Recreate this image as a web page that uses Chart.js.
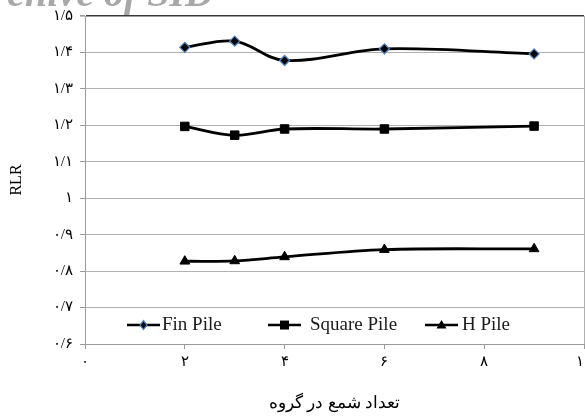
<!DOCTYPE html>
<html>
<head>
<meta charset="utf-8">
<script src="https://cdn.jsdelivr.net/npm/chart.js@4/dist/chart.umd.min.js"></script>
<style>
  html, body { margin: 0; padding: 0; background: #fff; }
  #wrap { width: 585px; height: 418px; }
</style>
</head>
<body>
<div id="wrap"><canvas id="chart" width="585" height="418"></canvas></div>
<script>
// values
const xValues = [2, 3, 4, 6, 9];
const finPile = [1.414, 1.431, 1.378, 1.41, 1.396];
const squarePile = [1.197, 1.173, 1.19, 1.19, 1.198];
const hPile = [0.827, 0.828, 0.839, 0.859, 0.861];
const seriesNames = ['Fin Pile', 'Square Pile', 'H Pile'];
const xTickLabels = ['۰', '۲', '۴', '۶', '۸', '۱۰'];
const yTickLabels = ['۰/۶', '۰/۷', '۰/۸', '۰/۹', '۱', '۱/۱', '۱/۲', '۱/۳', '۱/۴', '۱/۵'];
const xTitle = 'تعداد شمع در گروه';
const yTitle = 'RLR';
const watermark = 'Archive of SID';

const GRID = '#b0b0b0';
const AXIS = '#9a9a9a';
const SERIF = '"Liberation Serif", "DejaVu Serif", serif';

const toPoints = (ys) => ys.map((y, i) => ({ x: xValues[i], y }));

// draws the small marker shapes in the legend
const drawMarker = (ctx, style, x, y) => {
  ctx.save();
  ctx.fillStyle = '#000';
  ctx.beginPath();
  if (style === 'rectRot') {
    ctx.moveTo(x, y - 4.5);
    ctx.lineTo(x + 3.5, y);
    ctx.lineTo(x, y + 4.5);
    ctx.lineTo(x - 3.5, y);
    ctx.closePath();
    ctx.fill();
    ctx.strokeStyle = '#4f81bd';
    ctx.lineWidth = 1.2;
    ctx.stroke();
  } else if (style === 'rect') {
    ctx.rect(x - 4.5, y - 4.5, 9, 9);
    ctx.fill();
  } else {
    ctx.moveTo(x, y - 5);
    ctx.lineTo(x + 5, y + 3.5);
    ctx.lineTo(x - 5, y + 3.5);
    ctx.closePath();
    ctx.fill();
  }
  ctx.restore();
};

const insideLegend = {
  id: 'insideLegend',
  afterDatasetsDraw(chart) {
    const { ctx } = chart;
    const starts = [127, 268, 425];
    const gaps = [2, 9, 4];
    const y = chart.scales.y.getPixelForValue(0.652);
    ctx.save();
    chart.data.datasets.forEach((ds, i) => {
      const x0 = starts[i];
      ctx.strokeStyle = '#000';
      ctx.lineWidth = 2.6;
      ctx.beginPath();
      ctx.moveTo(x0, y);
      ctx.lineTo(x0 + 33, y);
      ctx.stroke();
      drawMarker(ctx, ds.pointStyle, x0 + 16.5, y);
      ctx.fillStyle = '#1a1a1a';
      ctx.font = '19px ' + SERIF;
      ctx.textAlign = 'left';
      ctx.textBaseline = 'middle';
      ctx.fillText(ds.label, x0 + 33 + gaps[i], y);
    });
    ctx.restore();
  }
};

const watermarkText = {
  id: 'watermarkText',
  afterDraw(chart) {
    const { ctx } = chart;
    ctx.save();
    ctx.font = 'italic bold 40px ' + SERIF;
    ctx.fillStyle = '#a8a8a8';
    ctx.textAlign = 'right';
    ctx.textBaseline = 'alphabetic';
    ctx.fillText(watermark, 214, 6);
    ctx.restore();
  }
};

const lineDataset = (label, values, style, radius, extra) => ({
  label,
  data: toPoints(values),
  borderColor: '#000',
  borderWidth: 2.8,
  tension: 0.35,
  pointStyle: style,
  pointRadius: radius,
  pointHoverRadius: radius,
  pointBackgroundColor: '#000',
  pointBorderColor: '#000',
  pointBorderWidth: 1,
  ...extra
});

new Chart(document.getElementById('chart'), {
  type: 'line',
  data: {
    datasets: [
      lineDataset(seriesNames[0], finPile, 'rectRot', 5, { pointBorderColor: '#4f81bd', pointBorderWidth: 1.3 }),
      lineDataset(seriesNames[1], squarePile, 'rect', 6),
      lineDataset(seriesNames[2], hPile, 'triangle', 5.6)
    ]
  },
  options: {
    responsive: false,
    animation: false,
    layout: { autoPadding: false, padding: { top: 16, right: 1, left: 0, bottom: 0 } },
    plugins: {
      legend: { display: false },
      tooltip: { enabled: false }
    },
    scales: {
      x: {
        type: 'linear',
        min: 0,
        max: 10,
        ticks: {
          stepSize: 2,
          padding: 4,
          color: '#000',
          font: { size: 15, family: SERIF },
          callback: (v, i) => xTickLabels[i]
        },
        grid: {
          color: (c) => (c.index === xTickLabels.length - 1 ? GRID : 'transparent'),
          tickColor: AXIS,
          tickLength: 5
        },
        border: { color: AXIS, width: 1 },
        title: {
          display: true,
          text: xTitle,
          color: '#000',
          font: { size: 17, family: SERIF },
          padding: { top: 0, bottom: 4 }
        },
        afterFit: (s) => { s.height = 74; s.paddingRight = 0; s.paddingLeft = 0; }
      },
      y: {
        min: 0.6,
        max: 1.5,
        ticks: {
          stepSize: 0.1,
          padding: 7,
          color: '#000',
          font: { size: 15, family: SERIF },
          callback: (v, i) => yTickLabels[i]
        },
        grid: {
          color: (c) => (c.index === yTickLabels.length - 1 ? '#3a3a3a' : GRID),
          lineWidth: (c) => (c.index === yTickLabels.length - 1 ? 1.6 : 1),
          tickColor: AXIS,
          tickLength: 5
        },
        border: { color: AXIS, width: 1 },
        title: {
          display: true,
          text: yTitle,
          color: '#000',
          font: { size: 16, family: SERIF },
          padding: { top: 7, bottom: 0 }
        },
        afterFit: (s) => { s.width = 85; }
      }
    }
  },
  plugins: [insideLegend, watermarkText]
});
</script>
</body>
</html>
